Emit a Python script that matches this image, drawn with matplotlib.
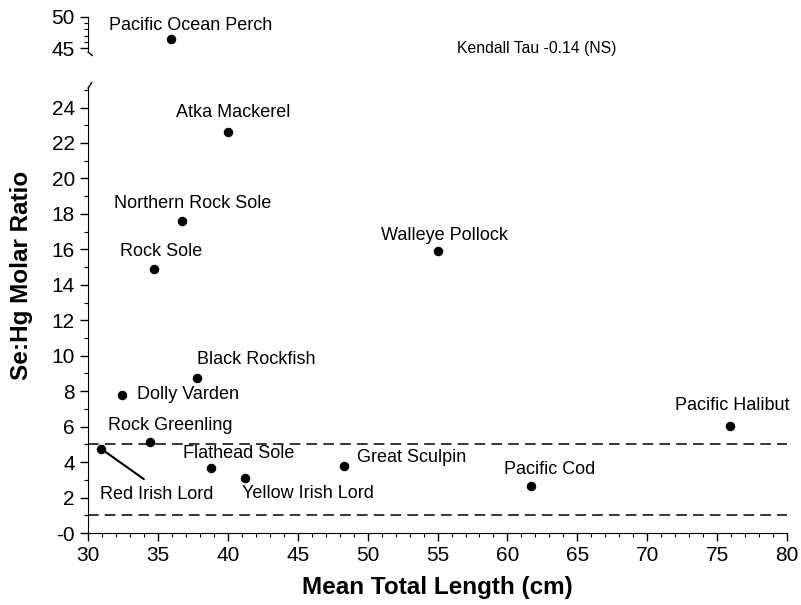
import matplotlib.pyplot as plt
from matplotlib.ticker import MultipleLocator, FixedLocator

plt.rcParams['font.family'] = ['Liberation Sans', 'DejaVu Sans']

# data
species = ["Atka Mackerel", "Northern Rock Sole", "Rock Sole", "Walleye Pollock",
           "Black Rockfish", "Dolly Varden", "Pacific Halibut", "Rock Greenling",
           "Red Irish Lord", "Flathead Sole", "Yellow Irish Lord", "Great Sculpin",
           "Pacific Cod"]
length_cm = [40.0, 36.7, 34.7, 55.0, 37.8, 32.4, 75.9, 34.4, 30.9, 38.8, 41.2, 48.3, 61.7]
se_hg = [22.6, 17.6, 14.9, 15.9, 8.75, 7.8, 6.05, 5.15, 4.75, 3.65, 3.1, 3.8, 2.65]

outlier_name = "Pacific Ocean Perch"
outlier_len = 35.9
outlier_ratio = 46.4

thresholds = [5, 1]

# label positions (x, y, ha)
label_pos = {
    "Atka Mackerel": (40.4, 23.7, "center"),
    "Northern Rock Sole": (37.5, 18.6, "center"),
    "Rock Sole": (35.25, 15.9, "center"),
    "Walleye Pollock": (55.5, 16.8, "center"),
    "Black Rockfish": (42.0, 9.8, "center"),
    "Dolly Varden": (33.5, 7.8, "left"),
    "Pacific Halibut": (76.1, 7.2, "center"),
    "Rock Greenling": (35.9, 6.05, "center"),
    "Red Irish Lord": (34.9, 2.15, "center"),
    "Flathead Sole": (40.8, 4.5, "center"),
    "Yellow Irish Lord": (45.7, 2.25, "center"),
    "Great Sculpin": (49.25, 4.25, "left"),
    "Pacific Cod": (63.0, 3.6, "center"),
}

fig = plt.figure(figsize=(8.01, 6.05), dpi=100)
ax = fig.add_axes([0.110, 0.119, 0.8725, 0.7355])
ax_top = fig.add_axes([0.110, 0.914, 0.8725, 0.058])

# lower panel
ax.scatter(length_cm, se_hg, s=34, color="black", zorder=3)
for t in thresholds:
    ax.axhline(t, color="black", lw=1.1, ls=(0, (7, 4)), zorder=1)
for name, x, y in zip(species, length_cm, se_hg):
    lx, ly, ha = label_pos[name]
    ax.text(lx, ly, name, fontsize=13, ha=ha, va="center")
# leader line for Red Irish Lord
ax.annotate("", xy=(30.93, 4.75), xytext=(34.15, 2.95),
            arrowprops=dict(arrowstyle="-", color="black", lw=1.5))

ax.set_xlim(30, 80)
ax.set_ylim(0, 25.1)
ax.xaxis.set_major_locator(MultipleLocator(5))
ax.xaxis.set_minor_locator(MultipleLocator(1))
ax.yaxis.set_major_locator(FixedLocator(range(0, 25, 2)))
ax.yaxis.set_minor_locator(MultipleLocator(1))
ax.set_yticklabels(["-0"] + [str(v) for v in range(2, 25, 2)])
ax.tick_params(which="major", direction="out", length=6, width=1, labelsize=15)
ax.tick_params(which="minor", direction="out", length=3, width=0.8)
ax.spines["top"].set_visible(False)
ax.spines["right"].set_visible(False)
ax.set_xlabel("Mean Total Length (cm)", fontsize=17.5, fontweight="bold", labelpad=8)
ax.set_ylabel("Se:Hg Molar Ratio", fontsize=17.5, fontweight="bold")
ax.yaxis.set_label_coords(-0.079, 0.58)

# upper panel (broken axis)
ax_top.scatter([outlier_len], [outlier_ratio], s=34, color="black", zorder=3)
ax_top.text(37.3, 48.6, outlier_name, fontsize=13, ha="center", va="center")
ax_top.text(56.4, 45.0, "Kendall Tau -0.14 (NS)", fontsize=11.3, ha="left", va="center")
ax_top.set_xlim(30, 80)
ax_top.set_ylim(44.4, 50)
ax_top.yaxis.set_major_locator(FixedLocator([45, 50]))
ax_top.yaxis.set_minor_locator(MultipleLocator(1))
ax_top.tick_params(which="major", direction="out", length=6, width=1, labelsize=15)
ax_top.tick_params(which="minor", direction="out", length=3, width=0.8)
ax_top.set_xticks([])
for s in ["top", "right", "bottom"]:
    ax_top.spines[s].set_visible(False)

# break marks
ax_top.plot([0, 0.006], [0, -0.1], transform=ax_top.transAxes, color="black",
            lw=1, clip_on=False)
ax.plot([0, 0.005], [1, 1.012], transform=ax.transAxes, color="black",
        lw=1, clip_on=False)

fig.savefig("out.png", dpi=100)
